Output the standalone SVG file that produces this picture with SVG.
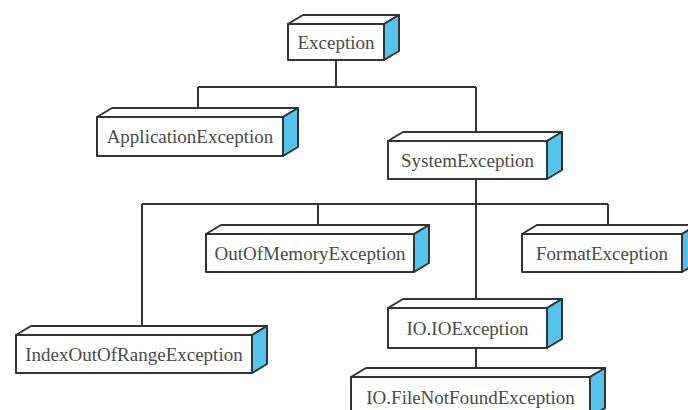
<svg xmlns="http://www.w3.org/2000/svg" width="688" height="410" viewBox="0 0 688 410">
<style>
.front{fill:#ffffff;stroke:#333;stroke-width:2;stroke-linejoin:round}
.top{fill:#ffffff;stroke:#333;stroke-width:2;stroke-linejoin:round}
.side{fill:#55c3ec;stroke:#333;stroke-width:2;stroke-linejoin:round}
.lbl{font-family:"Liberation Serif","Times New Roman",serif;font-size:19px;fill:#4a4a4a;text-anchor:middle}
.con{stroke:#333;stroke-width:2;fill:none}
</style>
<rect width="688" height="410" fill="#ffffff"/>
<g id="connectors">
<path class="con" d="M336 60V87M198 87H476M198 87V108M476 87V132"/>
<path class="con" d="M476 179V299M142 204H608M142 204V326M318 204V225M608 204V225M476 348V368"/>
</g>
<g id="exception">
<polygon class="top" points="288,24 303,15 399,15 384,24"/>
<polygon class="side" points="384,24 399,15 399,51 384,60"/>
<rect class="front" x="288" y="24" width="96" height="36"/>
<text class="lbl" x="336" y="48.5">Exception</text>
</g>
<g id="applicationexception">
<polygon class="top" points="97,117 112,108 298,108 283,117"/>
<polygon class="side" points="283,117 298,108 298,147 283,156"/>
<rect class="front" x="97" y="117" width="186" height="39"/>
<text class="lbl" x="190" y="143">ApplicationException</text>
</g>
<g id="systemexception">
<polygon class="top" points="388,141 403,132 562,132 547,141"/>
<polygon class="side" points="547,141 562,132 562,170 547,179"/>
<rect class="front" x="388" y="141" width="159" height="38"/>
<text class="lbl" x="467.5" y="166.5">SystemException</text>
</g>
<g id="outofmemoryexception">
<polygon class="top" points="206,234 221,225 429,225 414,234"/>
<polygon class="side" points="414,234 429,225 429,263 414,272"/>
<rect class="front" x="206" y="234" width="208" height="38"/>
<text class="lbl" x="310" y="259.5">OutOfMemoryException</text>
</g>
<g id="formatexception">
<polygon class="top" points="522,234 537,225 697,225 682,234"/>
<polygon class="side" points="682,234 697,225 697,263 682,272"/>
<rect class="front" x="522" y="234" width="160" height="38"/>
<text class="lbl" x="602" y="259.5">FormatException</text>
</g>
<g id="indexoutofrangeexception">
<polygon class="top" points="16,335 31,326 267,326 252,335"/>
<polygon class="side" points="252,335 267,326 267,364 252,373"/>
<rect class="front" x="16" y="335" width="236" height="38"/>
<text class="lbl" x="134" y="360.5">IndexOutOfRangeException</text>
</g>
<g id="ioexception">
<polygon class="top" points="388,308 403,299 562,299 547,308"/>
<polygon class="side" points="547,308 562,299 562,339 547,348"/>
<rect class="front" x="388" y="308" width="159" height="40"/>
<text class="lbl" x="467.5" y="334.5">IO.IOException</text>
</g>
<g id="filenotfoundexception">
<polygon class="top" points="351,377 366,368 605,368 590,377"/>
<polygon class="side" points="590,377 605,368 605,408 590,417"/>
<rect class="front" x="351" y="377" width="239" height="40"/>
<text class="lbl" x="470.5" y="403.5">IO.FileNotFoundException</text>
</g>
</svg>
